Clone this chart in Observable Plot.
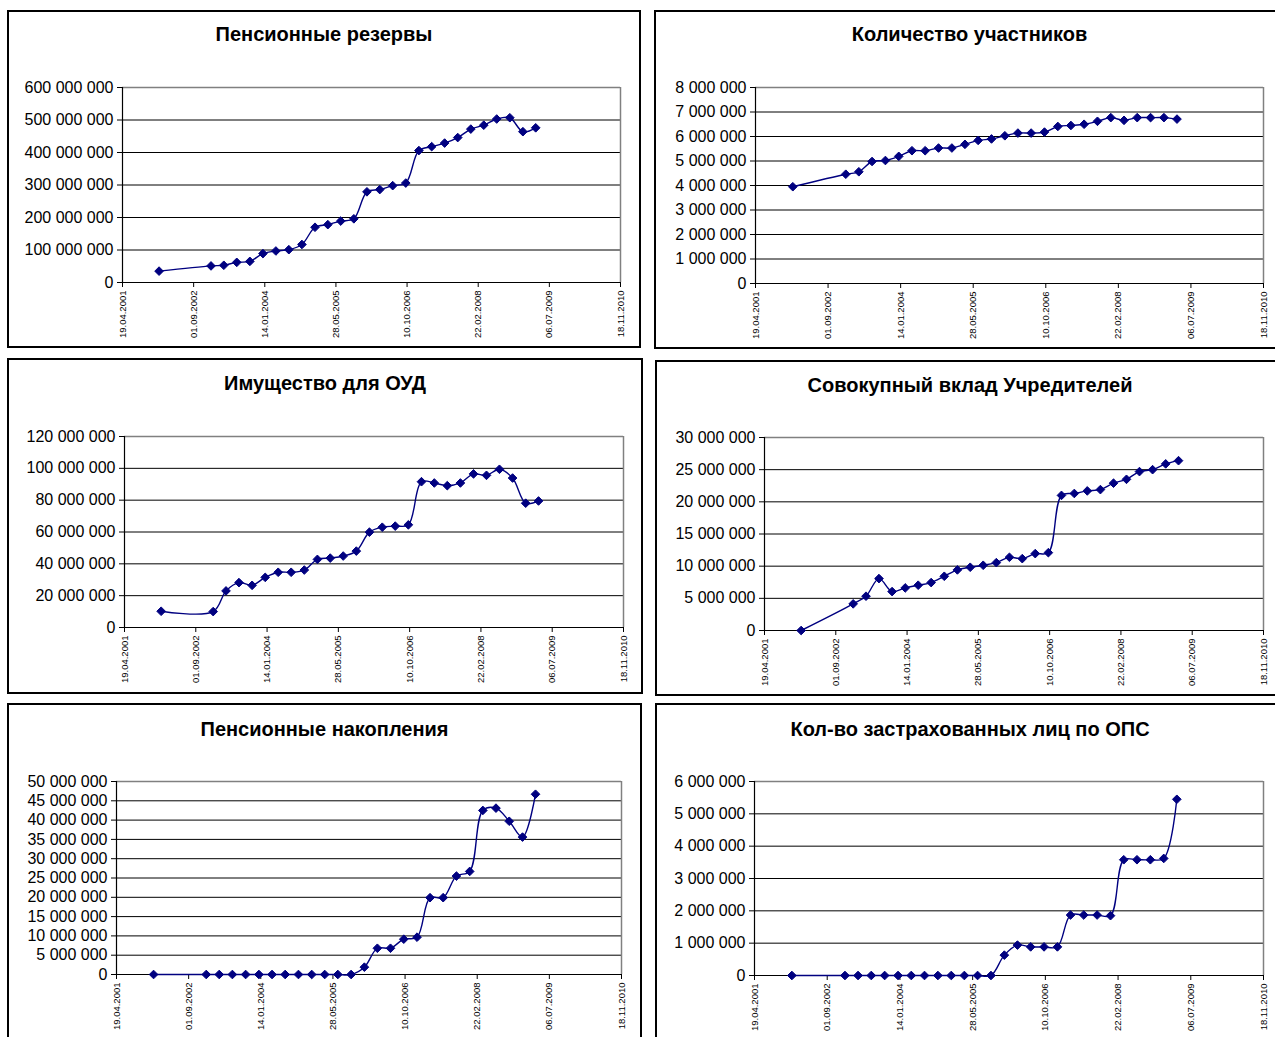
<!DOCTYPE html>
<html>
<head>
<meta charset="utf-8">
<script src="https://cdn.jsdelivr.net/npm/d3@7"></script>
<script src="https://cdn.jsdelivr.net/npm/@observablehq/plot@0.6"></script>
<style>
  html, body { margin: 0; padding: 0; background: #fff; }
  #page { position: relative; width: 1275px; height: 1037px; overflow: hidden; background: #fff;
          font-family: "Liberation Sans", Arial, sans-serif; }
  .box { position: absolute; border: 2px solid #000; box-sizing: border-box; }
  .title { position: absolute; font-weight: bold; font-size: 20px; text-align: center; white-space: nowrap; color: #000; }
  .chart { position: absolute; }
</style>
</head>
<body>
<div id="page"></div>
<script>
// ---- data ----
const dates = ["2002-01-01","2003-01-01","2003-04-01","2003-07-01","2003-10-01","2004-01-01","2004-04-01","2004-07-01","2004-10-01","2005-01-01","2005-04-01","2005-07-01","2005-10-01","2006-01-01","2006-04-01","2006-07-01","2006-10-01","2007-01-01","2007-04-01","2007-07-01","2007-10-01","2008-01-01","2008-04-01","2008-07-01","2008-10-01","2009-01-01","2009-04-01"];

const pensionReserves = [35000000,51000000,53000000,62000000,65000000,89000000,97000000,101000000,117000000,170000000,178000000,189000000,196000000,279000000,286000000,298000000,306000000,406000000,418000000,429000000,446000000,472000000,484000000,503000000,507000000,464000000,476000000];
const participants = [3950000,4460000,4560000,4980000,5020000,5190000,5420000,5420000,5530000,5530000,5680000,5840000,5900000,6030000,6140000,6140000,6180000,6410000,6450000,6500000,6620000,6770000,6660000,6770000,6770000,6770000,6710000];
const propertyOUD = [10200000,10000000,23000000,28200000,26500000,31500000,34700000,34700000,36100000,42800000,43600000,44900000,48000000,59900000,63000000,63700000,64500000,91600000,90800000,89100000,90800000,96500000,95600000,99400000,93900000,78100000,79500000];
const foundersContribution = [0,4140000,5330000,8070000,6050000,6620000,7040000,7450000,8430000,9420000,9830000,10140000,10550000,11380000,11170000,11950000,12100000,21000000,21300000,21700000,21900000,22900000,23500000,24700000,25000000,25900000,26400000];
const pensionSavings = [0,0,0,0,0,0,0,0,0,0,0,0,0,1900000,6800000,6800000,9150000,9670000,19900000,19900000,25500000,26700000,42500000,43100000,39700000,35600000,46700000];
const insuredPersons = [0,0,0,0,0,0,0,0,0,0,0,0,0,630000,940000,885000,885000,885000,1870000,1870000,1870000,1850000,3580000,3580000,3580000,3620000,5450000];

const xTickLabels = ["19.04.2001","01.09.2002","14.01.2004","28.05.2005","10.10.2006","22.02.2008","06.07.2009","18.11.2010"];

const titles = ["Пенсионные резервы","Количество участников","Имущество для ОУД","Совокупный вклад Учредителей","Пенсионные накопления","Кол-во застрахованных лиц по ОПС"];
const seriesList = [pensionReserves, participants, propertyOUD, foundersContribution, pensionSavings, insuredPersons];
const yMax = [600000000, 8000000, 120000000, 30000000, 50000000, 6000000];
const yStep = [100000000, 1000000, 20000000, 5000000, 5000000, 1000000];

// ---- layout (page pixels) ----
const boxes = [
  {l:7,   t:10,  r:641,  b:348},
  {l:654, t:10,  r:1290, b:349},
  {l:7,   t:358, r:643,  b:694},
  {l:655, t:360, r:1290, b:696},
  {l:7,   t:703, r:642,  b:1050},
  {l:655, t:703, r:1290, b:1050}
];
const areas = [
  {l:122, t:87,  r:620,  b:282},
  {l:755, t:87,  r:1263, b:283},
  {l:124, t:436, r:623,  b:627},
  {l:764, t:437, r:1263, b:630},
  {l:116, t:781, r:621,  b:974},
  {l:754, t:781, r:1263, b:975}
];
const titleY = [34, 34, 383, 385, 729, 729];

const parseDMY = s => { const [d,m,y] = s.split("."); return new Date(Date.UTC(+y, +m - 1, +d)); };
const xTicks = xTickLabels.map(parseDMY);
const fmtDMY = d3.utcFormat("%d.%m.%Y");
const fmtNum = v => d3.format(",")(v).replace(/,/g, " ");

const page = document.getElementById("page");
const navy = "#000080";

for (let i = 0; i < 6; i++) {
  const bx = boxes[i], ar = areas[i];
  const box = document.createElement("div");
  box.className = "box";
  Object.assign(box.style, {left: bx.l + "px", top: bx.t + "px", width: (bx.r - bx.l) + "px", height: (bx.b - bx.t) + "px"});
  page.appendChild(box);

  const tt = document.createElement("div");
  tt.className = "title";
  tt.textContent = titles[i];
  Object.assign(tt.style, {left: (bx.l) + "px", width: (Math.min(bx.r, 1285) - bx.l) + "px", top: (titleY[i] - 12) + "px", lineHeight: "24px"});
  page.appendChild(tt);

  const data = dates.map((d, k) => ({date: new Date(d + "T00:00:00Z"), value: seriesList[i][k]}));
  const yTicks = d3.range(0, yMax[i] + 1, yStep[i]);
  const mL = 120, mR = 12, mT = 12, mB = 70;
  const w = ar.r - ar.l, h = ar.b - ar.t;

  const chart = Plot.plot({
    width: w + mL + mR,
    height: h + mT + mB,
    marginLeft: mL, marginRight: mR, marginTop: mT, marginBottom: mB,
    style: {fontFamily: "'Liberation Sans', Arial, sans-serif", color: "#000", background: "transparent", overflow: "visible"},
    x: {type: "utc", domain: [xTicks[0], xTicks[xTicks.length - 1]]},
    y: {domain: [0, yMax[i]]},
    marks: [
      Plot.ruleY(yTicks, {stroke: "#000", strokeWidth: 1}),
      Plot.ruleY([yMax[i]], {stroke: "#808080", strokeWidth: 1.5}),
      Plot.ruleX([xTicks[xTicks.length - 1]], {stroke: "#808080", strokeWidth: 1.5}),
      Plot.ruleX([xTicks[0]], {stroke: "#000", strokeWidth: 1.2}),
      Plot.ruleY([0], {stroke: "#000", strokeWidth: 1.2}),
      Plot.axisY({ticks: yTicks, tickFormat: fmtNum, tickSize: 5, tickPadding: 4, fontSize: 16, label: null, stroke: "#000"}),
      Plot.axisX({ticks: xTicks, tickFormat: fmtDMY, tickSize: 5, tickPadding: 3, tickRotate: -90, fontSize: 9.5, label: null, stroke: "#000"}),
      Plot.line(data, {x: "date", y: "value", curve: "catmull-rom", stroke: navy, strokeWidth: 1.4}),
      Plot.dot(data, {x: "date", y: "value", symbol: "diamond2", r: 3.9, fill: navy, stroke: navy, strokeWidth: 1})
    ]
  });
  chart.classList.add("chart");
  Object.assign(chart.style, {left: (ar.l - mL) + "px", top: (ar.t - mT) + "px", position: "absolute"});
  page.appendChild(chart);
}
</script>
</body>
</html>
